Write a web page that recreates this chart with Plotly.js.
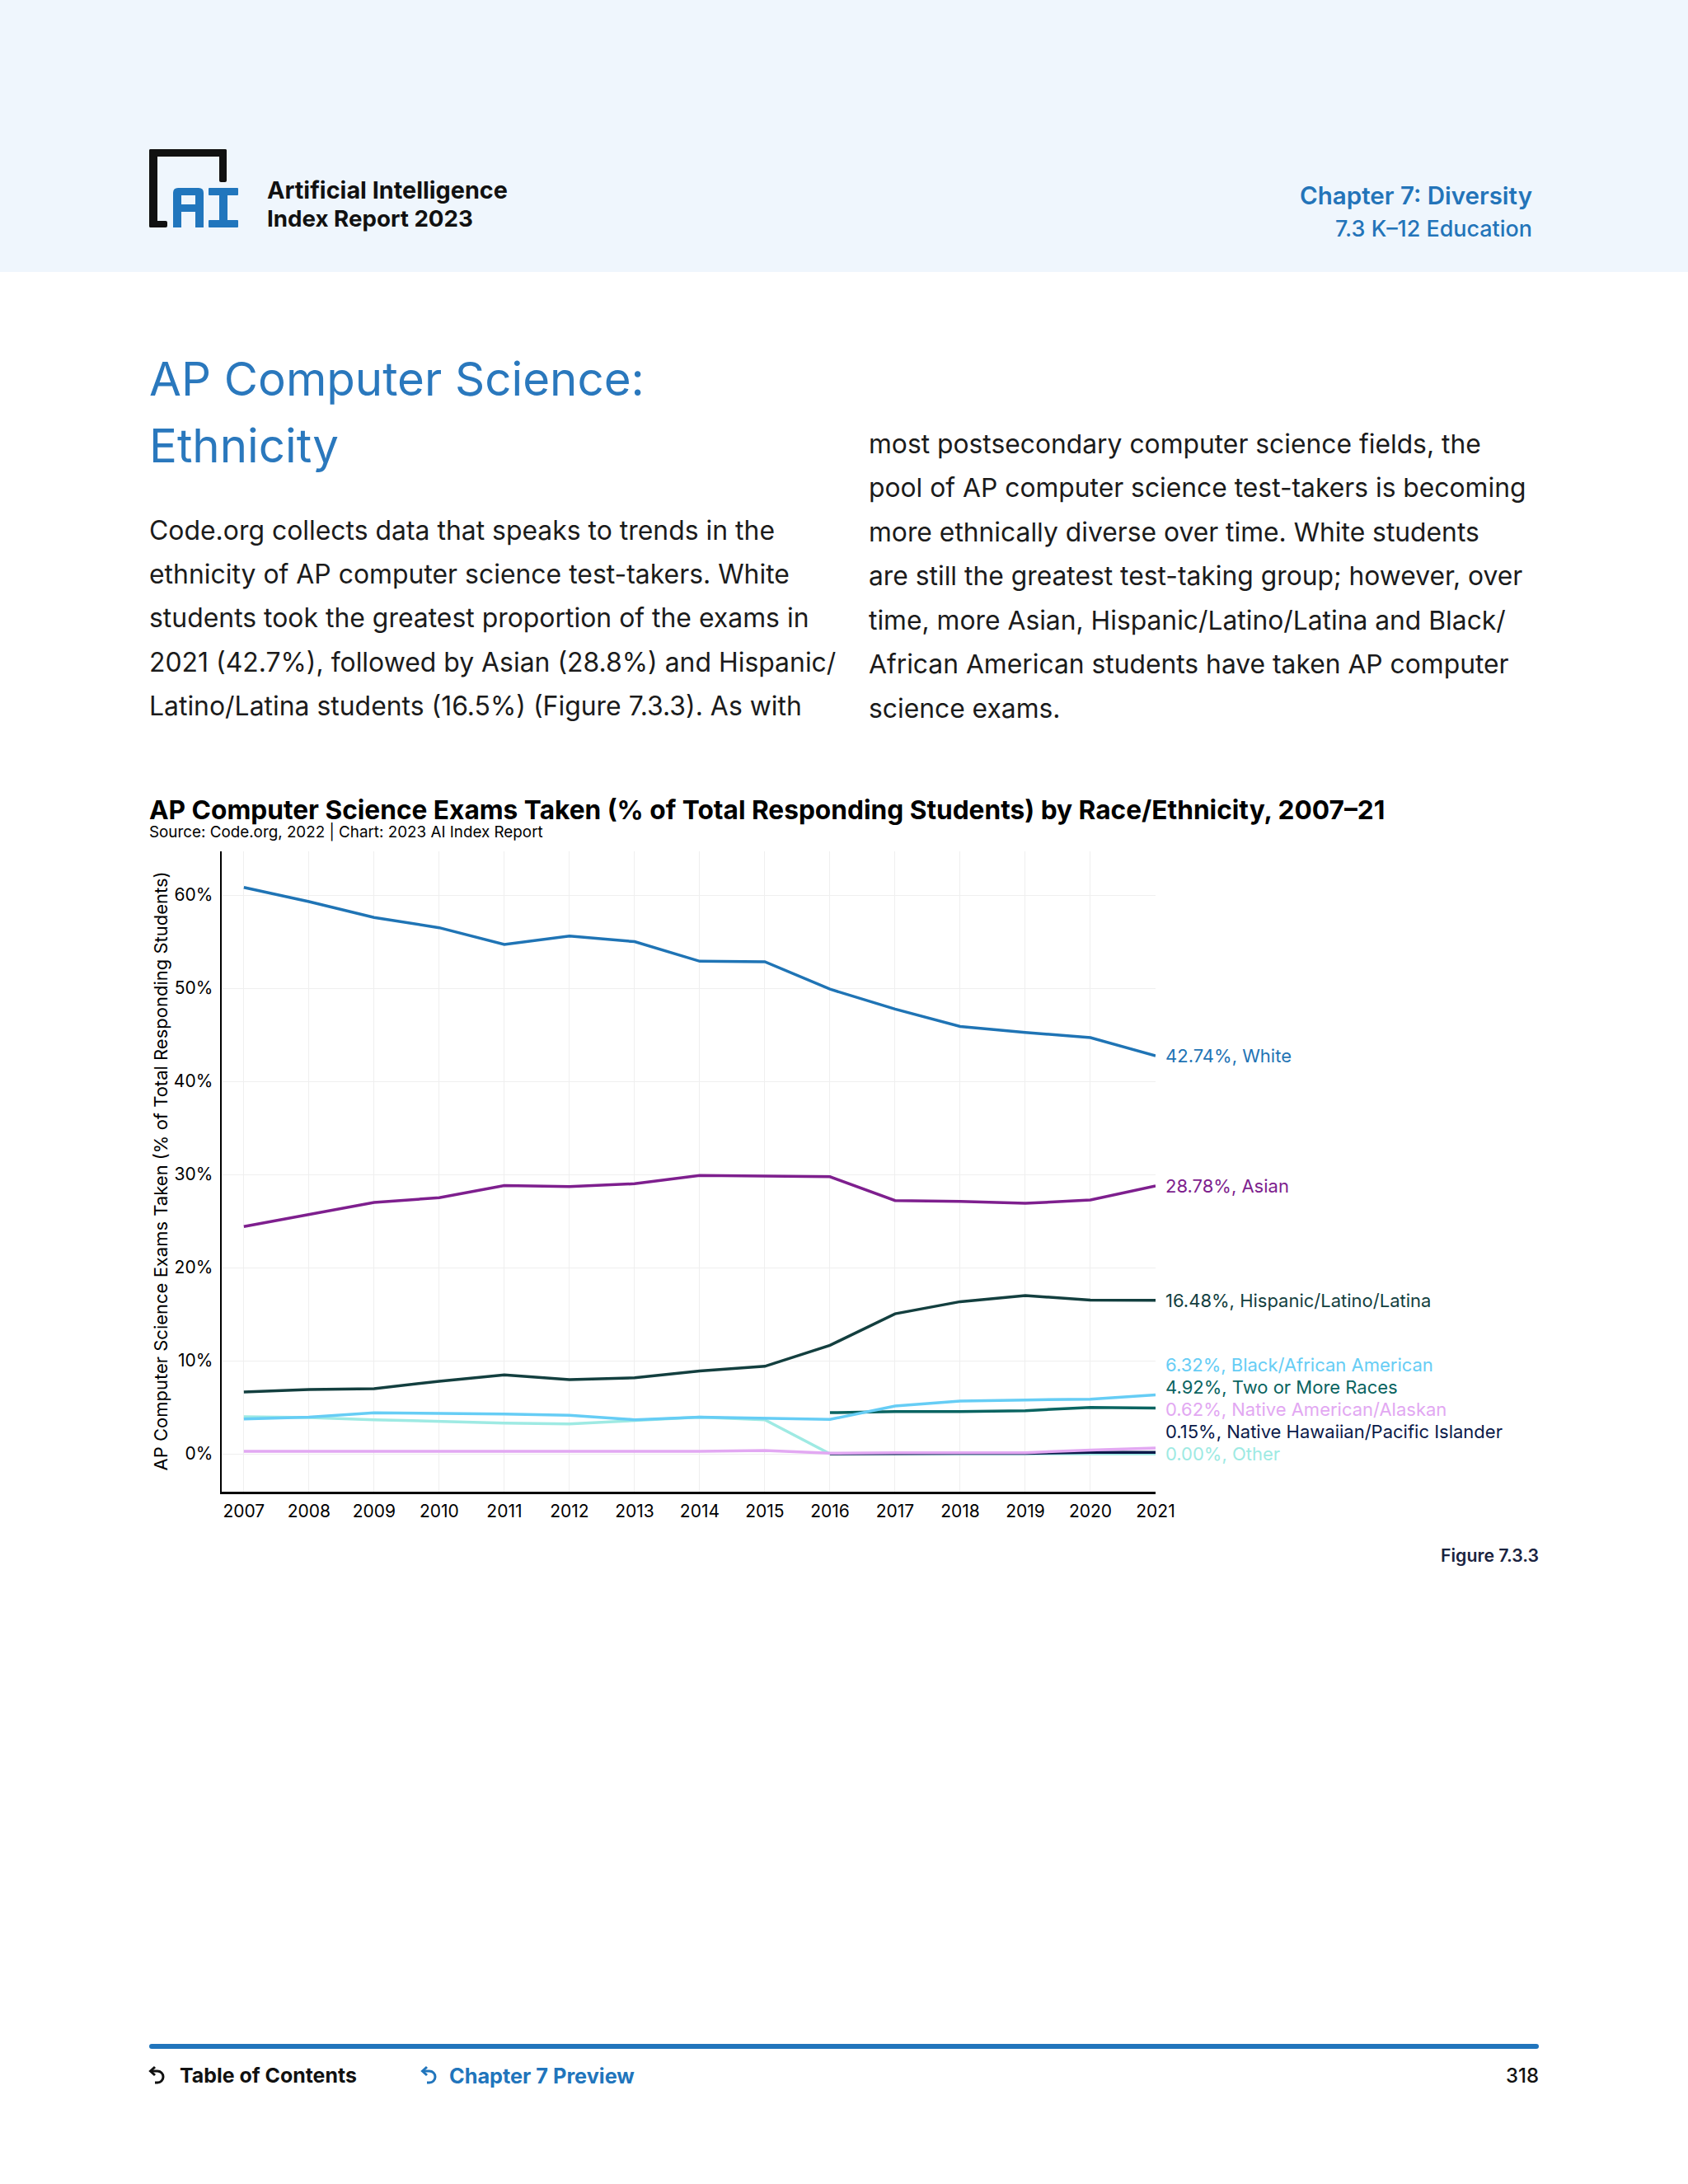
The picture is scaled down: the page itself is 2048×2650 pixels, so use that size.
<!DOCTYPE html>
<html><head><meta charset="utf-8">
<script src="https://cdn.plot.ly/plotly-3.0.1.min.js"></script>
<style>
html,body{margin:0;padding:0}
body{width:2048px;height:2650px;background:#fff;position:relative;font-family:Inter,"Noto Sans",sans-serif;overflow:hidden}
.t{position:absolute;white-space:nowrap;line-height:1.2}
</style></head><body>
<div style="position:absolute;left:0;top:0;width:2048px;height:330px;background:#eff6fd"></div>
<svg style="position:absolute;left:0;top:0" width="400" height="330">
  <g fill="#111">
    <rect x="181" y="181" width="10" height="95" rx="2"/>
    <rect x="181" y="181" width="94" height="9" rx="2"/>
    <rect x="266" y="181" width="9" height="40" rx="2"/>
    <rect x="181" y="268" width="22" height="8" rx="2"/>
  </g>
  <g fill="#2176bd">
    <path d="M210 276 V234 Q210 228 216 228 H241 Q247 228 247 234 V276 H237 V257 H220 V276 Z M220 237 V248 H237 V237 Z" fill-rule="evenodd"/>
    <rect x="253" y="228" width="36" height="9" rx="1"/>
    <rect x="266" y="228" width="10" height="48"/>
    <rect x="253" y="267" width="36" height="9" rx="1"/>
  </g>
</svg>
<div id="h1" class="t" style="font-weight:700;color:#111">Artificial Intelligence</div>
<div id="h2" class="t" style="font-weight:700;color:#111">Index Report 2023</div>
<div id="c1" class="t" style="font-weight:600;color:#2374b9">Chapter 7: Diversity</div>
<div id="c2" class="t" style="font-weight:500;color:#2374b9">7.3 K–12 Education</div>
<div id="ttl1" class="t" style="font-weight:400;color:#2a78bd">AP Computer Science:</div>
<div id="ttl2" class="t" style="font-weight:400;color:#2a78bd">Ethnicity</div>
<div id="left"></div>
<div id="right"></div>
<div id="ct" class="t" style="font-weight:700;color:#000">AP Computer Science Exams Taken (% of Total Responding Students) by Race/Ethnicity, 2007–21</div>
<div id="cs" class="t" style="font-weight:400;color:#000">Source: Code.org, 2022 | Chart: 2023 AI Index Report</div>
<div id="plot" style="position:absolute;left:160px;top:1020px;width:1760px;height:850px"></div>
<div id="fig" class="t" style="font-weight:600;color:#1a2340">Figure 7.3.3</div>
<div style="position:absolute;left:181px;top:2480px;width:1686px;height:6px;background:#2175bc;border-radius:3px"></div>
<svg style="position:absolute;left:178px;top:2505px" width="26" height="30"><path d="M5 8 H13 A7 7 0 0 1 13 22 H10" stroke="#111" stroke-width="3" fill="none"/><path d="M10 3 L4.5 8 L10 13" stroke="#111" stroke-width="3" fill="none"/></svg>
<div id="f1" class="t" style="font-weight:700;color:#111">Table of Contents</div>
<svg style="position:absolute;left:508px;top:2505px" width="26" height="30"><path d="M5 8 H13 A7 7 0 0 1 13 22 H10" stroke="#2175bc" stroke-width="3" fill="none"/><path d="M10 3 L4.5 8 L10 13" stroke="#2175bc" stroke-width="3" fill="none"/></svg>
<div id="f2" class="t" style="font-weight:700;color:#2175bc">Chapter 7 Preview</div>
<div id="f3" class="t" style="font-weight:500;color:#111">318</div>
<script>
// ---------- data ----------
const years = [2007,2008,2009,2010,2011,2012,2013,2014,2015,2016,2017,2018,2019,2020,2021];
const white = [60.83,59.3,57.6,56.5,54.7,55.6,55.0,52.9,52.85,49.9,47.76,45.9,45.25,44.7,42.74];
const asian = [24.4,25.7,27.0,27.5,28.8,28.7,29.0,29.9,29.85,29.76,27.2,27.1,26.9,27.26,28.78];
const hispanic = [6.64,6.9,6.99,7.8,8.47,7.96,8.17,8.9,9.4,11.65,15.04,16.34,17.0,16.5,16.48];
const black = [3.75,3.95,4.4,4.34,4.28,4.13,3.66,3.95,3.8,3.69,5.13,5.66,5.78,5.87,6.32];
const twoOrMore = [null,null,null,null,null,null,null,null,null,4.42,4.54,4.54,4.63,4.99,4.92];
const nativeAmerican = [0.27,0.27,0.27,0.27,0.25,0.25,0.32,0.27,0.35,0.06,0.12,0.12,0.12,0.4,0.62];
const nativeHawaiian = [null,null,null,null,null,null,null,null,null,0.0,0.05,0.05,0.05,0.15,0.15];
const other = [3.98,3.9,3.66,3.45,3.3,3.2,3.6,3.95,3.66,0,0,0,0,0,0];
const seriesNames = ["Other","Native Hawaiian/Pacific Islander","Native American/Alaskan","Two or More Races","Black/African American","Hispanic/Latino/Latina","Asian","White"];
const seriesData = [other,nativeHawaiian,nativeAmerican,twoOrMore,black,hispanic,asian,white];
const seriesColors = ["#9eeae3","#0b1a4a","#e2a8f2","#0a6461","#66cdf5","#133f3f","#7e1f8e","#1f74b5"];
const yTicks = [0,10,20,30,40,50,60];

const leftLines = ["Code.org collects data that speaks to trends in the","ethnicity of AP computer science test-takers. White","students took the greatest proportion of the exams in","2021 (42.7%), followed by Asian (28.8%) and Hispanic/","Latino/Latina students (16.5%) (Figure 7.3.3). As with"];
const rightLines = ["most postsecondary computer science fields, the","pool of AP computer science test-takers is becoming","more ethnically diverse over time. White students","are still the greatest test-taking group; however, over","time, more Asian, Hispanic/Latino/Latina and Black/","African American students have taken AP computer","science exams."];

// ---------- text layout helpers ----------
function place(el, x, cy, targetW, align, fs0){
  el.style.fontSize = fs0+'px';
  let w = el.getBoundingClientRect().width;
  let fs = fs0*targetW/w;
  el.style.fontSize = fs+'px';
  w = el.getBoundingClientRect().width;
  const h = el.getBoundingClientRect().height;
  el.style.left = (align==='right' ? x-w : x)+'px';
  el.style.top = (cy - h/2)+'px';
  return fs;
}
const $ = id=>document.getElementById(id);
place($('h1'),324,231,292,'left',28);
place($('h2'),324,266,250,'left',28);
place($('c1'),1859,238,282,'right',28);
place($('c2'),1859,277,239,'right',26);
const tfs = place($('ttl1'),181,460,601,'left',60);
$('ttl2').style.fontSize=tfs+'px';
{const h=$('ttl2').getBoundingClientRect().height; $('ttl2').style.left='181px'; $('ttl2').style.top=(541-h/2)+'px';}
function block(container, lines, x, y0, dy, refIdx, refW){
  const els = lines.map(s=>{const d=document.createElement('div');d.className='t';d.textContent=s;d.style.color='#1b1b1b';container.appendChild(d);return d;});
  const fs = place(els[refIdx], x, y0+dy*refIdx, refW, 'left', 32);
  els.forEach((d,i)=>{d.style.fontSize=fs+'px';const h=d.getBoundingClientRect().height;d.style.left=x+'px';d.style.top=(y0+dy*i-h/2)+'px';});
}
block($('left'),leftLines,181,644,53.3,2,801);
block($('right'),rightLines,1054,539,53.5,1,798);
place($('ct'),181,983,1500,'left',31);
place($('cs'),181,1010,478,'left',18);
place($('fig'),1867,1888,119,'right',22);
place($('f1'),218,2519,215,'left',24);
place($('f2'),545,2519,225,'left',24);
place($('f3'),1867,2519,40,'right',24);

// ---------- chart ----------
const traces = seriesData.map((d,i)=>({
  x: years, y: d, type:'scatter', mode:'lines', name: seriesNames[i],
  line:{color: seriesColors[i], width:3.5}, connectgaps:false, hoverinfo:'skip'
}));
// label positions: stack upward from the lowest final value with a minimum gap
const finals = seriesData.map(d=>d[d.length-1]);
const order = finals.map((v,i)=>i).sort((a,b)=>finals[a]-finals[b]);
const labelY = []; let prev = -Infinity; const gap = 2.38;
order.forEach(i=>{ const y=Math.max(finals[i], prev+gap); labelY[i]=y; prev=y; });
const annotations = seriesData.map((d,i)=>({
  x: years[years.length-1], y: labelY[i], xref:'x', yref:'y',
  text: finals[i].toFixed(2)+'%, '+seriesNames[i], showarrow:false,
  xanchor:'left', yanchor:'middle', xshift:10,
  font:{family:'Inter, sans-serif', size:22, color: seriesColors[i]}
}));
annotations.push({
  xref:'paper', yref:'paper', x:0, y:0.5, xshift:-75, xanchor:'center', yanchor:'middle',
  text:'AP Computer Science Exams Taken (% of Total Responding Students)', textangle:-90,
  showarrow:false, font:{family:'Inter, sans-serif', size:22, color:'#000'}
});
const layout = {
  width:1760, height:850, margin:{l:109, r:518, t:13, b:60},
  paper_bgcolor:'rgba(0,0,0,0)', plot_bgcolor:'#fff', showlegend:false,
  font:{family:'Inter, sans-serif', size:21, color:'#000'},
  xaxis:{range:[2006.66,2021], tickvals:years, ticktext:years.map(String), showgrid:true, gridcolor:'#efefef', gridwidth:1,
         showline:true, linecolor:'#000', linewidth:2.5, zeroline:false, ticks:'', ticklabelstandoff:3, tickfont:{size:21}},
  yaxis:{range:[-4.07,64.7], tickvals:yTicks, ticktext:yTicks.map(v=>v+'%'), showgrid:true, gridcolor:'#efefef', gridwidth:1,
         showline:true, linecolor:'#000', linewidth:2.5, zeroline:false, ticks:'', ticklabelstandoff:4, tickfont:{size:21}},
  annotations: annotations
};
Plotly.newPlot('plot', traces, layout, {staticPlot:true, displayModeBar:false});
</script>
</body></html>
